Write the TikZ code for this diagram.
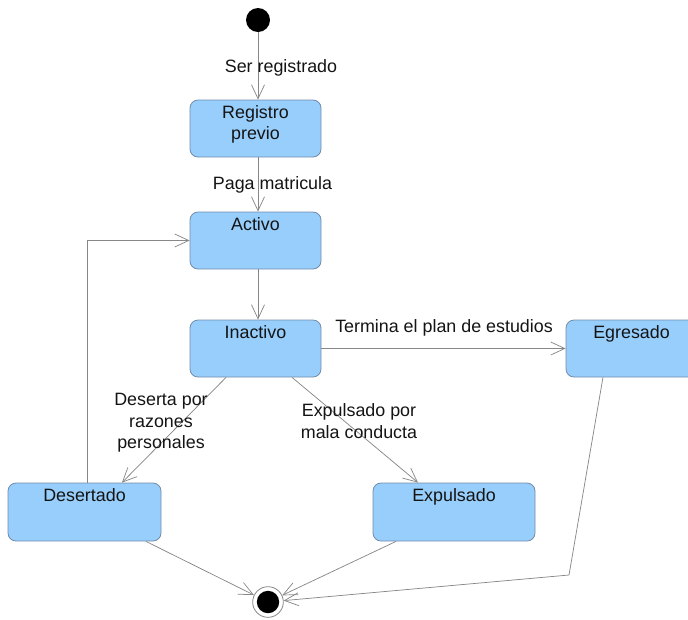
\documentclass[tikz,border=0pt]{standalone}
\usepackage{fontspec}
\setmainfont{Liberation Sans}
\usetikzlibrary{arrows.meta,calc}
\definecolor{boxfill}{RGB}{151,206,251}
\definecolor{boxline}{RGB}{112,140,170}
\definecolor{edgecol}{RGB}{135,135,135}
\definecolor{txt}{RGB}{20,20,20}
\begin{document}
\begin{tikzpicture}[x=0.75pt,y=-0.75pt,
  txtfont/.style={font=\fontsize{13.4pt}{16pt}\selectfont, text=txt},
  state/.style={draw=boxline, fill=boxfill, rounded corners=6pt, line width=0.6pt,
    minimum width=98.25pt, minimum height=42.75pt, inner sep=0pt},
  stlabel/.style={txtfont, anchor=north, yshift=-1pt, align=center},
  edge/.style={draw=edgecol, line width=0.55pt, -{Straight Barb[length=10.5pt,width=9.75pt]}},
  lbl/.style={txtfont, align=center, inner sep=0pt}]
\useasboundingbox (0,0) rectangle (688,619);

% states
\node[state, label={[stlabel]north:Registro\\previo}] (reg) at (255.5,128.5) {};
\node[state, label={[stlabel]north:Activo}] (act) at (255.5,240.5) {};
\node[state, label={[stlabel]north:Inactivo}] (ins) at (255.5,348.5) {};
\node[state, label={[stlabel]north:Egresado}] (egr) at (631.5,348.5) {};
\node[state, minimum width=114.75pt, minimum height=43.5pt, label={[stlabel]north:Desertado}] (des) at (84.5,512) {};
\node[state, minimum width=121.5pt, minimum height=43.5pt, label={[stlabel]north:Expulsado}] (exp) at (454,512) {};

% initial and final states
\node[circle, fill=black, minimum size=18pt, inner sep=0pt] (ini) at (258,20) {};
\node[circle, draw=edgecol, fill=white, line width=0.6pt, minimum size=23pt, inner sep=0pt] (fin) at (268,602) {};
\fill[black] (fin.center) circle (8.4pt);
\coordinate (bend) at (569,575);

% transitions
\draw[edge] (ini) -- (ini |- reg.north);
\draw[edge] (ini |- reg.south) -- (ini |- act.north);
\draw[edge] (ini |- act.south) -- (ini |- ins.north);
\draw[edge] (ins.east) -- (egr.west);
\draw[edge] ([xshift=-22.1pt]ins.south) -- ([xshift=28.1pt]des.north);
\draw[edge] ([xshift=27.4pt]ins.south) -- ([xshift=-27pt]exp.north);
\draw[edge] ([xshift=1.9pt]des.north) |- (act.west);
\draw[edge] ([xshift=46.1pt]des.south) -- (fin);
\draw[edge] ([xshift=-43.5pt]exp.south) -- (fin);
\draw[edge] ([xshift=-21.4pt]egr.south) -- (bend) -- (fin);

% transition labels
\node[lbl] (l1) at (281,68) {Ser registrado};
\node[lbl] (l2) at (272.5,185) {Paga matricula};
\node[lbl] (l3) at (444,328) {Termina el plan de estudios};
\node[lbl] (l4) at (161,423) {Deserta por\\razones\\personales};
\node[lbl] (l5) at (359,421) {Expulsado por\\mala conducta};
\end{tikzpicture}
\end{document}
